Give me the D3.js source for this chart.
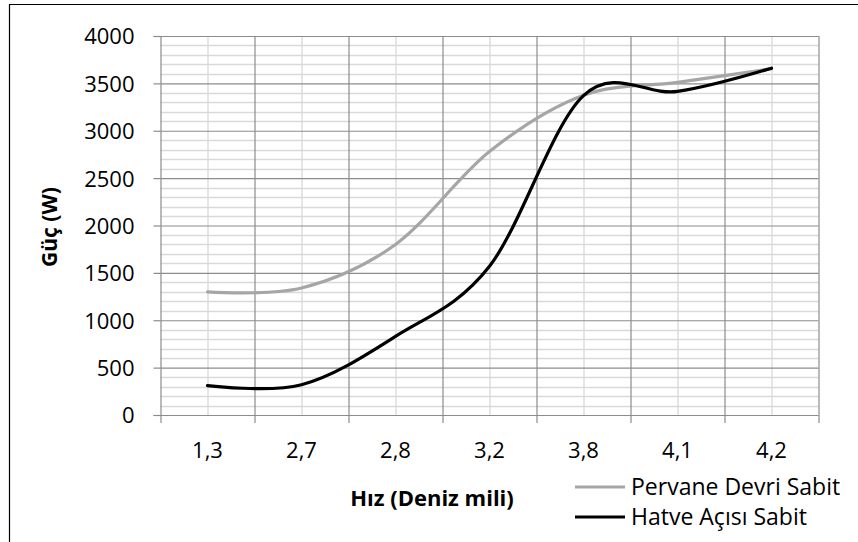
<!DOCTYPE html>
<html>
<head>
<meta charset="utf-8">
<script src="https://cdn.jsdelivr.net/npm/d3@7"></script>
<style>
  body { margin: 0; background: #fff; }
  text { font-family: 'Open Sans', 'Noto Sans', sans-serif; fill: #000; }
</style>
</head>
<body>
<div id="chart"></div>
<script>
// data
const categories = ['1,3', '2,7', '2,8', '3,2', '3,8', '4,1', '4,2'];
const pervaneDevri = [1300, 1340, 1800, 2780, 3375, 3510, 3655];
const hatveAcisi = [310, 320, 830, 1570, 3370, 3415, 3660];
const yTicks = [0, 500, 1000, 1500, 2000, 2500, 3000, 3500, 4000];
const seriesNames = ['Pervane Devri Sabit', 'Hatve Açısı Sabit'];
const seriesColors = ['#a6a6a6', '#000000'];

const W = 858, H = 542;
const fontSize = '22px';
const margin = { top: 36, left: 160.5 };
const width = 818.5 - margin.left,
  height = 415 - margin.top;

const svg = d3
  .select('#chart')
  .append('svg')
  .attr('width', W)
  .attr('height', H);

// outer chart border (only top/left visible in the crop)
svg.append('path')
  .attr('d', `M9.5,${H} V4.5 H${W}`)
  .attr('fill', 'none')
  .attr('stroke', '#000')
  .attr('stroke-width', 1.2);

const chart = svg.append('g').attr('transform', `translate(${margin.left}, ${margin.top})`);

const xScale = d3.scaleBand().range([0, width]).domain(categories);
const yScale = d3.scaleLinear().range([height, 0]).domain([0, 4000]);

// minor horizontal grid every 100
chart.append('g')
  .selectAll('line')
  .data(d3.range(100, 4000, 100).filter((v) => v % 500 !== 0))
  .enter()
  .append('line')
  .attr('x1', 0)
  .attr('x2', width)
  .attr('y1', (d) => Math.round(yScale(d)) + 0.5)
  .attr('y2', (d) => Math.round(yScale(d)) + 0.5)
  .attr('stroke', '#d9d9d9')
  .attr('stroke-width', 1.3);

// minor vertical grid at category centres
chart.append('g')
  .selectAll('line')
  .data(categories)
  .enter()
  .append('line')
  .attr('x1', (d) => Math.round(xScale(d) + xScale.bandwidth() / 2) + 0.5)
  .attr('x2', (d) => Math.round(xScale(d) + xScale.bandwidth() / 2) + 0.5)
  .attr('y1', 0)
  .attr('y2', height)
  .attr('stroke', '#d9d9d9')
  .attr('stroke-width', 1.3);

// major horizontal grid
chart.append('g')
  .attr('class', 'grid')
  .call(d3.axisLeft(yScale).tickValues(yTicks.slice(1)).tickSize(-width).tickFormat(''))
  .call((g) => g.select('.domain').remove())
  .call((g) => g.selectAll('line').attr('stroke', '#8c8c8c').attr('stroke-width', 1.2));

// major vertical grid at category boundaries
const bounds = categories.map((c) => xScale(c)).concat([width]);
chart.append('g')
  .selectAll('line')
  .data(bounds.slice(1))
  .enter()
  .append('line')
  .attr('x1', (d) => Math.round(d) + 0.5)
  .attr('x2', (d) => Math.round(d) + 0.5)
  .attr('y1', 0)
  .attr('y2', height)
  .attr('stroke', '#8c8c8c')
  .attr('stroke-width', 1.2);

// y axis
const yAxis = chart.append('g')
  .call(d3.axisLeft(yScale).tickValues(yTicks).tickSize(7).tickPadding(19).tickFormat(d3.format('d')));
yAxis.select('.domain').attr('stroke', '#8c8c8c').attr('stroke-width', 1.2);
yAxis.selectAll('line').attr('stroke', '#8c8c8c').attr('stroke-width', 1.2);
yAxis.selectAll('text')
  .style('font-size', fontSize)
  .style('font-family', "'Open Sans', sans-serif")
  .attr('dy', '0.36em');

// x axis: ticks at boundaries, labels centred
const xAxis = chart.append('g').attr('transform', `translate(0, ${height})`);
xAxis.append('line')
  .attr('x1', 0).attr('x2', width)
  .attr('y1', 0.5).attr('y2', 0.5)
  .attr('stroke', '#8c8c8c').attr('stroke-width', 1.2);
xAxis.selectAll('.tick')
  .data(bounds)
  .enter()
  .append('line')
  .attr('x1', (d) => Math.round(d) + 0.5)
  .attr('x2', (d) => Math.round(d) + 0.5)
  .attr('y1', 0)
  .attr('y2', 8)
  .attr('stroke', '#8c8c8c')
  .attr('stroke-width', 1.2);
xAxis.selectAll('.lbl')
  .data(categories)
  .enter()
  .append('text')
  .attr('x', (d) => xScale(d) + xScale.bandwidth() / 2)
  .attr('y', 43)
  .attr('text-anchor', 'middle')
  .style('font-size', fontSize)
  .text((d) => d);

// series lines (Excel-style smoothing)
const line = d3.line()
  .x((d, i) => xScale(categories[i]) + xScale.bandwidth() / 2)
  .y((d) => yScale(d))
  .curve(d3.curveCardinal.tension(0));

[pervaneDevri, hatveAcisi].forEach((s, i) => {
  chart.append('path')
    .datum(s)
    .attr('d', line)
    .attr('fill', 'none')
    .attr('stroke', seriesColors[i])
    .attr('stroke-width', 3.2)
    .attr('stroke-linecap', 'round');
});

// axis titles
svg.append('text')
  .attr('x', 432)
  .attr('y', 506)
  .attr('text-anchor', 'middle')
  .style('font-size', fontSize)
  .style('font-weight', 'bold')
  .text('Hız (Deniz mili)');

svg.append('text')
  .attr('transform', 'translate(57, 227) rotate(-90)')
  .attr('text-anchor', 'middle')
  .style('font-size', '21px')
  .style('font-weight', 'bold')
  .text('Güç (W)');

// legend
const legend = svg.append('g');
seriesNames.forEach((name, i) => {
  const y = 487 + i * 30;
  legend.append('line')
    .attr('x1', 575).attr('x2', 625)
    .attr('y1', y).attr('y2', y)
    .attr('stroke', seriesColors[i])
    .attr('stroke-width', 3.2);
  legend.append('text')
    .attr('x', 631)
    .attr('y', y + 8)
    .style('font-size', '23px')
    .text(name);
});
</script>
</body>
</html>
